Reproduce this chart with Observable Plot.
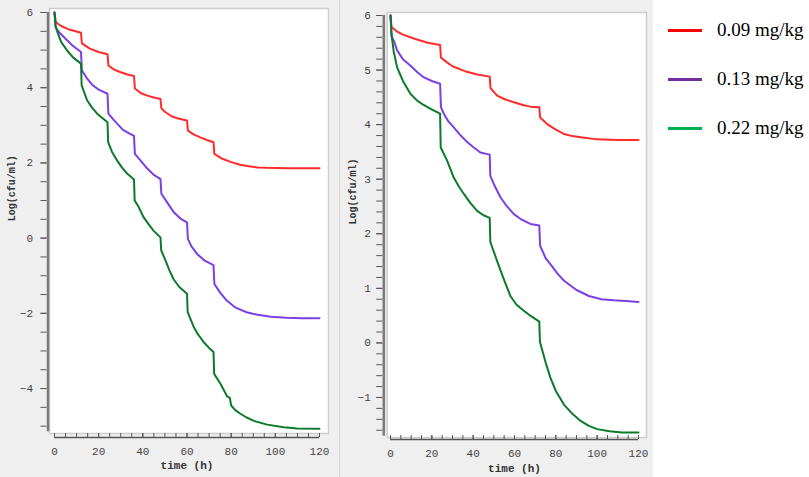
<!DOCTYPE html>
<html>
<head>
<meta charset="utf-8">
<script src="https://cdn.jsdelivr.net/npm/d3@7"></script>
<script src="https://cdn.jsdelivr.net/npm/@observablehq/plot@0.6"></script>
<style>
  html, body { margin: 0; padding: 0; background: #ffffff; }
  #root { position: relative; width: 809px; height: 477px; overflow: hidden; }
  #left { position: absolute; left: 0; top: 0; }
  #sep { position: absolute; left: 339px; top: 0; width: 1px; height: 477px; background: #d6d6d6; }
  #right { position: absolute; left: 340px; top: 0; }
  #legend { position: absolute; left: 653px; top: 0; width: 156px; height: 477px; background: #ffffff; }
  .row { position: absolute; left: 15px; height: 24px; display: flex; align-items: center; }
  .swatch { width: 34px; height: 3px; margin-right: 15px; }
  .lab { font-family: "Liberation Serif", "Times New Roman", serif; font-size: 19px; color: #000; white-space: nowrap; }
</style>
</head>
<body>
<div id="root">
  <div id="left"></div>
  <div id="sep"></div>
  <div id="right"></div>
  <div id="legend"></div>
</div>
<script>
// ---- data ----
const doses = ["0.09 mg/kg", "0.13 mg/kg", "0.22 mg/kg"];
const lineColors = ["#ff2b2b", "#7b3fe4", "#0b7a2a"];
const legendColors = ["#ff0000", "#7030a0", "#00b050"];

// left panel: dosing every 12 h  [time (h), log(cfu/ml)]
const leftRed = [[0,6],[0.6,5.74],[3,5.64],[7,5.54],[12,5.46],[12.4,5.18],[16,5.04],[20,4.95],[24,4.89],[24.4,4.59],[27,4.48],[30,4.41],[33,4.35],[36,4.31],[36.4,3.98],[39,3.86],[42,3.79],[45,3.74],[48,3.70],[48.4,3.45],[50,3.36],[53,3.24],[56,3.18],[60,3.13],[60.4,2.86],[63,2.76],[66,2.68],[69,2.61],[72,2.55],[72.4,2.24],[76,2.11],[80,2.02],[84,1.95],[88,1.91],[92,1.88],[96,1.87],[105,1.86],[120,1.86]];
const leftPurple = [[0,6],[0.5,5.6],[2,5.48],[5,5.3],[8,5.13],[12,4.95],[12.4,4.46],[14.8,4.24],[17,4.08],[20,3.95],[24,3.84],[24.4,3.31],[27,3.13],[31,2.88],[34,2.78],[36,2.72],[36.4,2.24],[39,2.06],[42,1.85],[45,1.68],[48,1.57],[48.4,1.18],[51,0.95],[54,0.69],[57,0.52],[60,0.42],[60.4,-0.02],[62,-0.22],[64.6,-0.42],[68,-0.6],[72,-0.72],[72.4,-1.22],[75,-1.45],[78,-1.66],[82,-1.85],[87,-1.97],[92,-2.04],[98,-2.09],[105,-2.12],[112,-2.13],[120,-2.13]];
const leftGreen = [[0,6],[0.5,5.65],[1.2,5.5],[3,5.22],[5.7,4.99],[8.5,4.8],[12,4.64],[12.3,4.06],[14.8,3.66],[17,3.47],[19.3,3.31],[21.5,3.2],[24,3.08],[24.3,2.55],[26,2.3],[28.4,2.06],[30.5,1.88],[33,1.71],[36,1.56],[36.3,1.0],[38,0.84],[40.3,0.56],[42.5,0.38],[44.8,0.2],[48,0.02],[48.3,-0.32],[50.3,-0.6],[52,-0.85],[54,-1.1],[56.5,-1.3],[60,-1.48],[60.3,-1.97],[63.1,-2.37],[65,-2.56],[67.6,-2.77],[70,-2.92],[72,-3.03],[72.3,-3.61],[75.2,-3.88],[78.2,-4.21],[79.4,-4.25],[80,-4.45],[82,-4.58],[84.2,-4.67],[87,-4.77],[90.3,-4.86],[96.3,-4.96],[103.8,-5.03],[110,-5.06],[120,-5.07]];

// right panel: dosing every 24 h
const rightRed = [[0,6],[0.5,5.79],[3,5.71],[6,5.65],[12,5.57],[18,5.5],[24,5.46],[24.4,5.23],[27,5.15],[30,5.07],[36,4.98],[42,4.92],[48,4.88],[48.4,4.67],[51.6,4.53],[55,4.47],[59.7,4.41],[64,4.36],[67.7,4.33],[72,4.32],[72.4,4.13],[75.8,4.01],[80,3.91],[83.9,3.83],[88,3.79],[92,3.77],[100,3.73],[110,3.72],[120,3.72]];
const rightPurple = [[0,6],[0.5,5.62],[2,5.5],[3.2,5.36],[6,5.2],[9.7,5.08],[13,4.96],[16,4.87],[20,4.8],[24,4.75],[24.4,4.32],[25.8,4.2],[28,4.06],[30.6,3.95],[34,3.8],[37.1,3.68],[40,3.59],[43.5,3.49],[48,3.45],[48.3,3.06],[50.5,2.87],[53.2,2.67],[56,2.52],[59.7,2.36],[63,2.27],[67.7,2.18],[72,2.15],[72.4,1.78],[75,1.56],[78,1.41],[81,1.26],[84,1.14],[90,0.97],[96,0.86],[102,0.8],[108,0.78],[114,0.77],[120,0.75]];
const rightGreen = [[0,6],[0.5,5.66],[1.5,5.35],[3.2,5.05],[6,4.8],[9.7,4.56],[12.9,4.44],[16,4.36],[19.4,4.29],[24,4.2],[24.3,3.58],[27.4,3.34],[30.6,3.03],[33,2.87],[35.5,2.73],[38.5,2.57],[41.9,2.42],[45,2.34],[48,2.29],[48.3,1.85],[51.6,1.5],[55,1.15],[58,0.86],[61,0.7],[64.5,0.59],[68,0.49],[72,0.39],[72.3,0.02],[75,-0.35],[77.4,-0.64],[80,-0.88],[83.9,-1.13],[88,-1.3],[92,-1.43],[96,-1.52],[100,-1.58],[106,-1.62],[112,-1.64],[120,-1.64]];

// tick values
const xMajorTicks = [0, 20, 40, 60, 80, 100, 120];
const xMinorTicks = [0,5,10,15,20,25,30,35,40,45,50,55,60,65,70,75,80,85,90,95,100,105,110,115,120];
const leftYMajor = [-4, -2, 0, 2, 4, 6];
const leftYMinor = [-5,-4.5,-4,-3.5,-3,-2.5,-2,-1.5,-1,-0.5,0,0.5,1,1.5,2,2.5,3,3.5,4,4.5,5,5.5,6];
const rightYMajor = [-1, 0, 1, 2, 3, 4, 5, 6];
const rightYMinor = [-1.6,-1.4,-1.2,-1,-0.8,-0.6,-0.4,-0.2,0,0.2,0.4,0.6,0.8,1,1.2,1.4,1.6,1.8,2,2.2,2.4,2.6,2.8,3,3.2,3.4,3.6,3.8,4,4.2,4.4,4.6,4.8,5,5.2,5.4,5.6,5.8,6];
const xLabel = "time (h)";
const yLabel = "Log(cfu/ml)";

function toRows(seriesList) {
  const rows = [];
  seriesList.forEach((s, i) => s.forEach(([t, v]) => rows.push({t, v, dose: doses[i]})));
  return rows;
}

function panel(cfg) {
  const rows = toRows(cfg.series);
  return Plot.plot({
    width: cfg.width,
    height: cfg.height,
    marginLeft: cfg.marginLeft,
    marginRight: cfg.marginRight,
    marginTop: cfg.marginTop,
    marginBottom: cfg.marginBottom,
    style: {background: "#efefef", fontFamily: "'Liberation Mono', 'DejaVu Sans Mono', monospace", fontSize: "11px", color: "#444"},
    x: {domain: [0, 120]},
    y: {domain: cfg.yDomain},
    color: {domain: doses, range: lineColors},
    marks: [
      Plot.frame({fill: "white", stroke: "#cdcdcd", strokeWidth: 1.5,
        insetLeft: cfg.white[0], insetRight: cfg.white[1], insetTop: cfg.white[2], insetBottom: cfg.white[3]}),
      // y axis
      Plot.ruleX([0], {y1: cfg.yDomain[0] - 0.05, y2: cfg.yDomain[1], dx: cfg.yAxisDx, stroke: "#7a7a7a", strokeWidth: 2.5}),
      Plot.axisY({ticks: cfg.yMinor, tickSize: 6, dx: cfg.yAxisDx - 1, stroke: "#555", tickFormat: () => "", label: null}),
      Plot.axisY({ticks: cfg.yMajor, tickSize: 6, dx: cfg.yAxisDx - 1, stroke: "#555", tickPadding: cfg.yPad, fill: "#444", label: null}),
      // x axis
      Plot.ruleY([cfg.yDomain[0]], {x1: 0, x2: 120, dy: cfg.xAxisDy, stroke: "#555", strokeWidth: 1.5}),
      Plot.axisX({ticks: xMinorTicks, tickSize: 4, dy: cfg.xAxisDy - 4, stroke: "#555", tickFormat: () => "", label: null}),
      Plot.axisX({ticks: xMajorTicks, tickSize: 4, dy: cfg.xAxisDy - 4, stroke: "#555", tickPadding: 10, fill: "#444", label: null}),
      Plot.text([xLabel], {text: d => d, frameAnchor: "bottom", dy: cfg.xLabelDy, lineAnchor: "middle", fontWeight: "bold", fontSize: 11, fill: "#333"}),
      Plot.text([yLabel], {text: d => d, frameAnchor: "left", dx: cfg.yLabelDx, rotate: -90, fontWeight: "bold", fontSize: 10, fill: "#333"}),
      // curves
      Plot.line(rows, {x: "t", y: "v", z: "dose", stroke: "dose", strokeWidth: 2, curve: "linear"})
    ]
  });
}

document.getElementById("left").append(panel({
  series: [leftRed, leftPurple, leftGreen],
  width: 339, height: 477, marginLeft: 54, marginRight: 20, marginTop: 12, marginBottom: 47.6,
  yDomain: [-5.1, 6], yMajor: leftYMajor, yMinor: leftYMinor,
  white: [-5, -9, -4, -3.6], yAxisDx: -6.5, yPad: 8, xAxisDy: 7.6, xLabelDy: 35.6, yLabelDx: -43
}));

document.getElementById("right").append(panel({
  series: [rightRed, rightPurple, rightGreen],
  width: 313, height: 477, marginLeft: 50, marginRight: 15, marginTop: 15, marginBottom: 44,
  yDomain: [-1.66, 6], yMajor: rightYMajor, yMinor: rightYMinor,
  white: [-3.3, -8, -3, -4], yAxisDx: -6.7, yPad: 6, xAxisDy: 6, xLabelDy: 35, yLabelDx: -38
}));

// legend (HTML, colours and labels from the arrays above)
const legend = document.getElementById("legend");
const rowTops = [18, 67, 116];
doses.forEach((d, i) => {
  const row = document.createElement("div");
  row.className = "row";
  row.style.top = rowTops[i] + "px";
  const sw = document.createElement("div");
  sw.className = "swatch";
  sw.style.background = legendColors[i];
  const lab = document.createElement("span");
  lab.className = "lab";
  lab.textContent = d;
  row.append(sw, lab);
  legend.append(row);
});
</script>
</body>
</html>
